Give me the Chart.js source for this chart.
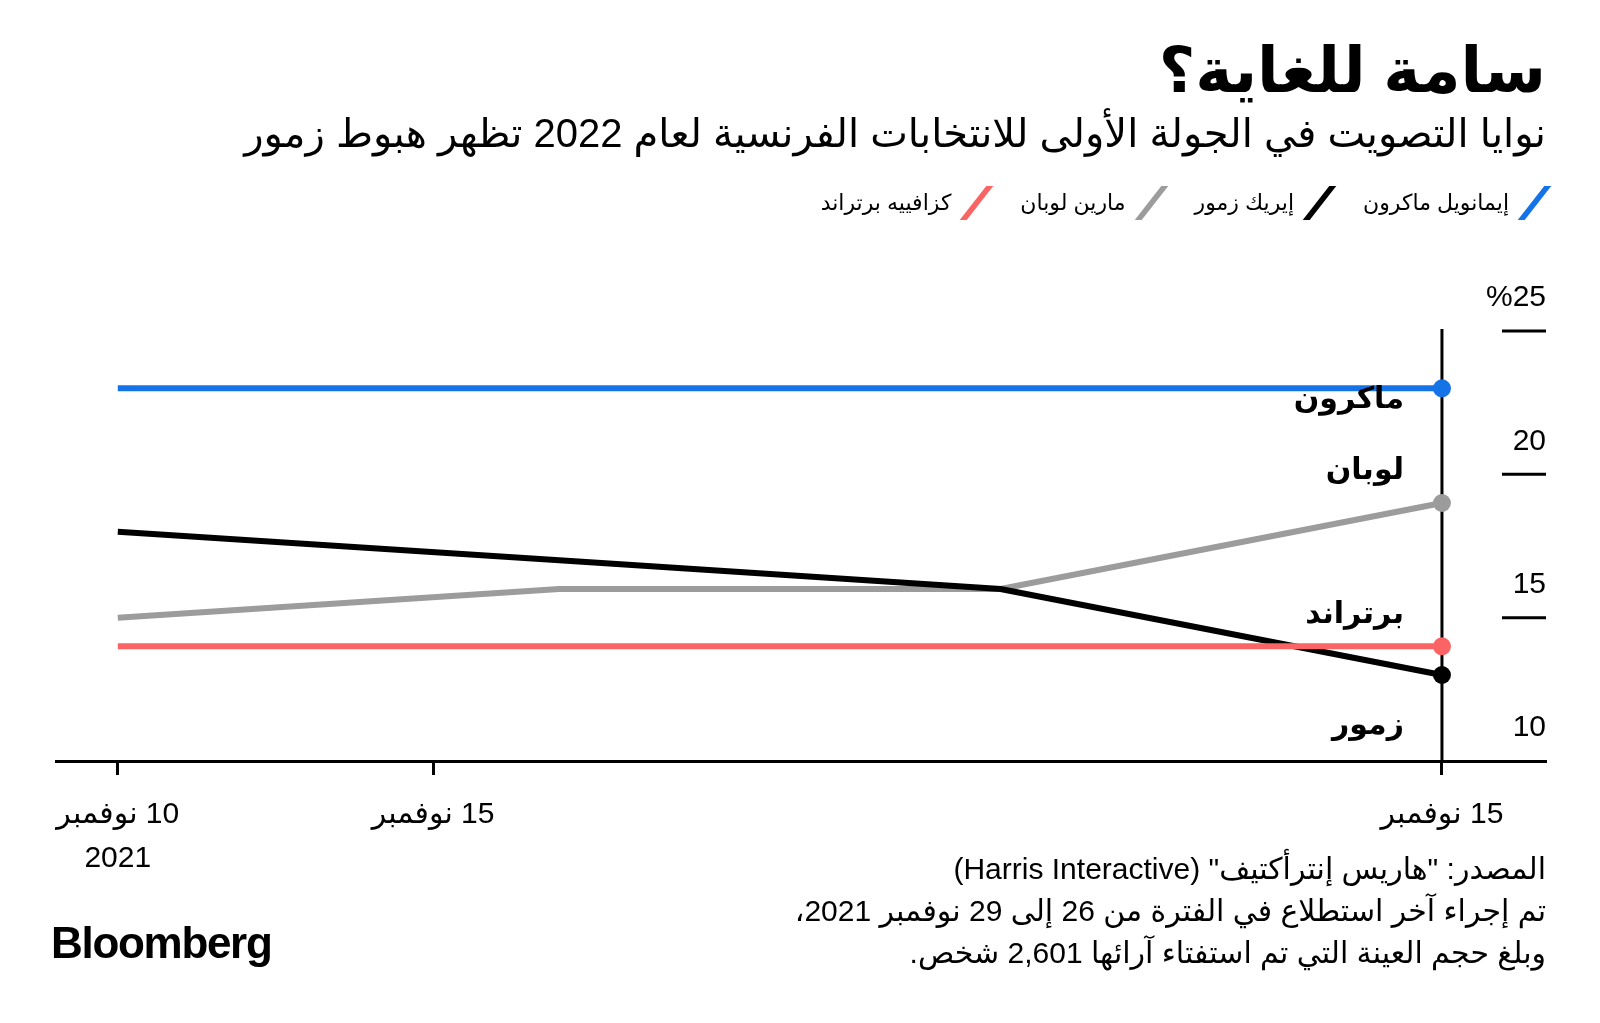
<!DOCTYPE html>
<html>
<head>
<meta charset="utf-8">
<script src="https://cdn.jsdelivr.net/npm/chart.js@4"></script>
<style>
  html, body { margin: 0; padding: 0; background: #fff; }
  body { width: 1600px; height: 1023px; position: relative; overflow: hidden;
         font-family: "Liberation Sans", "DejaVu Sans", sans-serif; color: #000; }
  #chartWrap { position: absolute; left: 0; top: 0; width: 1600px; height: 1023px; }
  .rt { position: absolute; right: 54px; direction: rtl; text-align: right; white-space: nowrap; }
  #title { top: 34px; font-size: 63px; font-weight: bold; }
  #subtitle { top: 110px; font-size: 40px; }
  #legend { top: 186px; display: flex; direction: rtl; align-items: center; font-size: 22px; }
  .item { display: flex; align-items: center; margin-left: 32px; }
  .sw { width: 7px; height: 34px; transform: skewX(-38deg); margin-left: 22px; margin-right: 8px; }
  #source { top: 848px; font-size: 30px; line-height: 42px; }
  #logo { position: absolute; left: 51px; top: 918px; font-size: 44px; font-weight: bold; letter-spacing: -1.3px; }
</style>
</head>
<body>
<div id="chartWrap"><canvas id="pollChart" width="1600" height="1023" dir="rtl"></canvas></div>
<div id="title" class="rt">سامة للغاية؟</div>
<div id="subtitle" class="rt">نوايا التصويت في الجولة الأولى للانتخابات الفرنسية لعام 2022 تظهر هبوط زمور</div>
<div id="legend" class="rt"></div>
<div id="source" class="rt">المصدر: "هاريس إنترأكتيف" (Harris Interactive)<br>تم إجراء آخر استطلاع في الفترة من 26 إلى 29 نوفمبر 2021،<br>وبلغ حجم العينة التي تم استفتاء آرائها 2,601 شخص.</div>
<div id="logo">Bloomberg</div>
<script>
// poll days (day of November 2021)
const days = [10, 17, 24, 31];
const seriesNames = ['إيمانويل ماكرون', 'إيريك زمور', 'مارين لوبان', 'كزافييه برتراند'];
const shortNames = ['ماكرون', 'زمور', 'لوبان', 'برتراند'];
const seriesColors = ['#1473e6', '#000000', '#9c9c9c', '#fa6464'];
const macron = [23, 23, 23, 23];
const zemmour = [18, 17, 16, 13];
const lepen = [15, 16, 16, 19];
const bertrand = [14, 14, 14, 14];
const drawOrder = [3, 1, 2, 0];

// axis ticks
const xTickDays = [10, 15, 31];
const xTickLabels = [['10 نوفمبر', '2021'], '15 نوفمبر', '15 نوفمبر'];
const yTicks = [10, 15, 20, 25];
const yTickLabels = ['10', '15', '20', '%25'];
// where the end labels sit, in % units
const endLabelAt = [22.6, 11.2, 20.1, 15.1];

const allSeries = [macron, zemmour, lepen, bertrand];

// legend
const legendEl = document.getElementById('legend');
seriesNames.forEach((name, i) => {
    const it = document.createElement('div');
    it.className = 'item';
    it.innerHTML = `<span class="sw" style="background:${seriesColors[i]}"></span><span>${name}</span>`;
    legendEl.appendChild(it);
});

const last = days.length - 1;

const decorations = {
    id: 'decorations',
    afterDatasetsDraw(chart) {
        const { ctx, chartArea, scales: { x, y } } = chart;
        ctx.save();
        // vertical line at latest poll
        const xl = x.getPixelForValue(days[last]);
        ctx.strokeStyle = '#000';
        ctx.lineWidth = 3;
        ctx.beginPath();
        ctx.moveTo(xl, y.getPixelForValue(25) - 2);
        ctx.lineTo(xl, chartArea.bottom);
        ctx.stroke();

        // y ticks on the right
        ctx.direction = 'ltr';
        ctx.font = '30px "Liberation Sans", "DejaVu Sans", sans-serif';
        ctx.fillStyle = '#000';
        ctx.textAlign = 'right';
        ctx.textBaseline = 'middle';
        yTicks.forEach((v, i) => {
            const py = y.getPixelForValue(v);
            if (v > 10) {
                ctx.beginPath();
                ctx.moveTo(chartArea.right - 44, py);
                ctx.lineTo(chartArea.right, py);
                ctx.stroke();
            }
            ctx.fillText(yTickLabels[i], chartArea.right, py - 33);
        });

        // end labels
        ctx.direction = 'rtl';
        ctx.textAlign = 'right';
        ctx.font = 'bold 30px "DejaVu Sans", sans-serif';
        shortNames.forEach((n, i) => {
            ctx.fillText(n, xl - 38, y.getPixelForValue(endLabelAt[i]));
        });

        // redraw end points over the vertical line
        chart.data.datasets.forEach((ds, i) => {
            ctx.fillStyle = ds.borderColor;
            ctx.beginPath();
            ctx.arc(xl, y.getPixelForValue(ds.data[last].y), 9, 0, Math.PI * 2);
            ctx.fill();
        });
        ctx.restore();
    }
};

const ctx = document.getElementById('pollChart').getContext('2d');
const pollChart = new Chart(ctx, {
    type: 'line',
    data: {
        datasets: allSeries.map((vals, i) => ({
            label: seriesNames[i],
            data: vals.map((v, j) => ({ x: days[j], y: v })),
            borderColor: seriesColors[i],
            backgroundColor: seriesColors[i],
            borderWidth: 6,
            pointRadius: 0,
            tension: 0,
            order: drawOrder[i]
        }))
    },
    options: {
        responsive: false,
        animation: false,
        layout: { padding: { left: 56, right: 54, top: 331, bottom: 0 } },
        plugins: { legend: { display: false }, tooltip: { enabled: false } },
        scales: {
            x: {
                type: 'linear',
                min: 9.02,
                max: 32.65,
                afterBuildTicks(scale) {
                    scale.ticks = xTickDays.map(v => ({ value: v }));
                },
                afterFit(scale) { scale.height = 262; },
                border: { display: true, color: '#000', width: 3 },
                grid: { drawOnChartArea: false, drawTicks: true, tickLength: 14, tickWidth: 3, tickColor: '#000' },
                ticks: {
                    autoSkip: false,
                    maxRotation: 0,
                    padding: 18,
                    color: '#000',
                    font: { size: 30, family: '"Liberation Sans", "DejaVu Sans", sans-serif', lineHeight: 1.45 },
                    callback(value, index) { return xTickLabels[index]; }
                }
            },
            y: {
                display: false,
                min: 10,
                max: 25
            }
        }
    },
    plugins: [decorations]
});
</script>
</body>
</html>
